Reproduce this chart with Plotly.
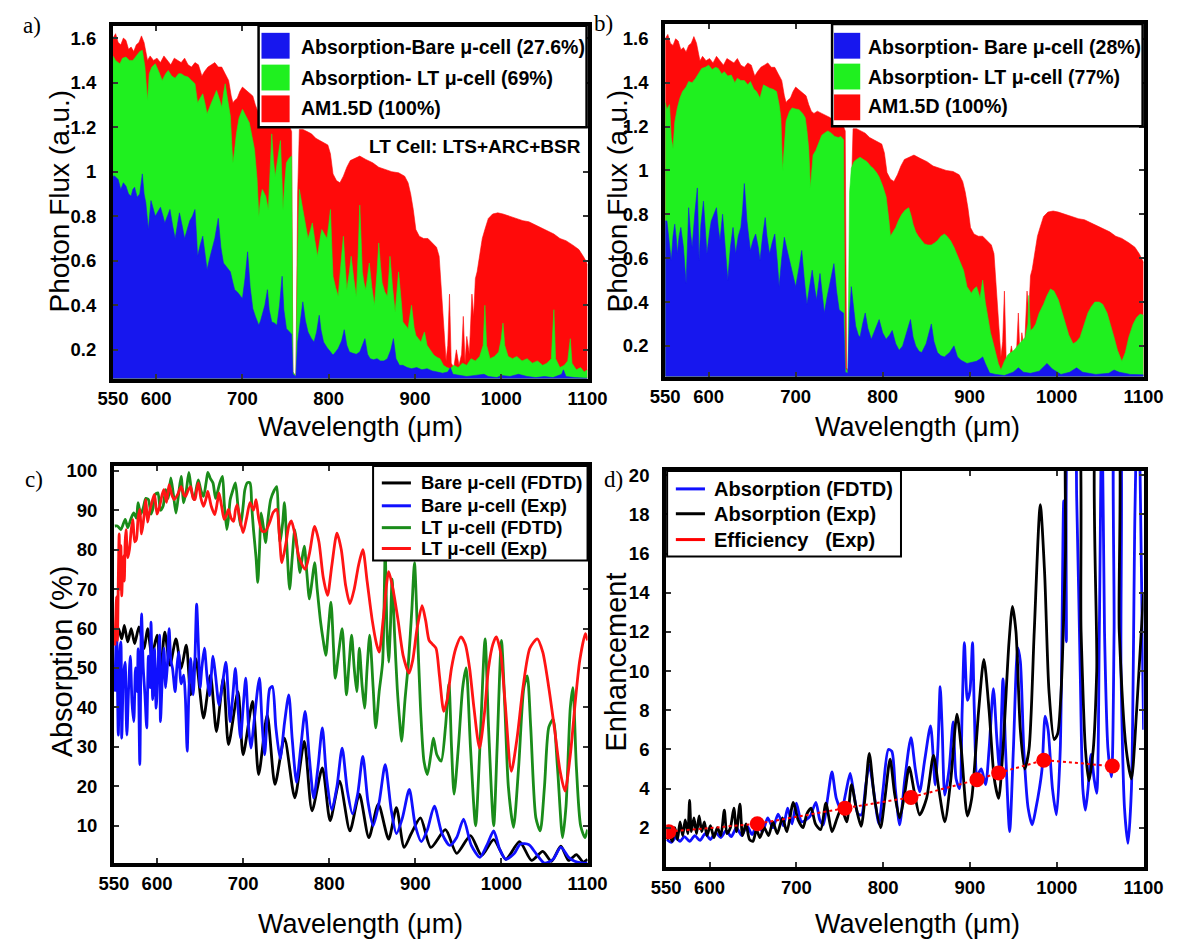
import plotly.graph_objects as go

# ---------------- DATA ----------------
# AM1.5D photon flux (same spectrum in panels a and b): (wavelength nm, flux a.u.)
AM15 = [(550,1.60),(553,1.62),(556,1.58),(559,1.57),(562,1.60),(565,1.59),(568,1.55),(571,1.56),(574,1.54),
        (577,1.57),(580,1.58),(583,1.61),(586,1.58),(588,1.54),(590,1.50),(593,1.52),(597,1.50),(601,1.51),
        (605,1.49),(609,1.52),(613,1.50),(617,1.48),(621,1.51),(625,1.50),(629,1.49),(633,1.51),(637,1.48),
        (641,1.47),(645,1.49),(649,1.48),(653,1.43),(656,1.45),(660,1.47),(664,1.48),(668,1.49),(672,1.47),
        (676,1.47),(680,1.44),(684,1.41),(687,1.34),(689,1.31),(691,1.32),(694,1.33),(697,1.36),(700,1.38),
        (703,1.37),(706,1.36),(709,1.35),(712,1.34),(715,1.30),(718,1.27),(721,1.26),(725,1.27),(730,1.26),
        (735,1.25),(740,1.24),(745,1.22),(750,1.21),(755,1.20),(757,1.18),(758.5,0.10),(762,0.08),(764,0.90),
        (766,1.19),(770,1.19),(775,1.18),(780,1.17),(785,1.15),(790,1.14),(795,1.13),(799,1.12),(802,1.08),
        (805,0.99),(809,0.96),(813,0.95),(817,0.98),(821,1.02),(825,1.05),(830,1.06),(836,1.07),(843,1.055),
        (851,1.04),(858,1.02),(866,1.01),(873,1.00),(881,0.995),(888,0.98),(892,0.95),(895,0.90),(898,0.83),
        (901,0.74),(905,0.71),(910,0.70),(915,0.70),(920,0.68),(925,0.66),(928,0.62),(930,0.50),(932,0.38),
        (934,0.22),(936,0.15),(938,0.22),(940,0.45),(942,0.14),(945,0.12),(948,0.20),(951,0.13),(954,0.18),
        (956,0.35),(958,0.14),(960,0.26),(963,0.18),(966,0.45),(968,0.35),(970,0.52),(972,0.55),(975,0.62),
        (978,0.70),(981,0.74),(985,0.79),(990,0.81),(996,0.815),(1002,0.81),(1010,0.80),(1018,0.79),
        (1025,0.78),(1032,0.775),(1040,0.76),(1048,0.745),(1055,0.73),(1061,0.72),(1068,0.70),(1075,0.69),
        (1083,0.67),(1090,0.65),(1095,0.62),(1098,0.60),(1100,0.58)]

# Panel a: absorbed photon flux, LT micro-cell (69 %)
A_LT = [(550,1.52),(553,1.50),(556,1.49),(558,1.485),(561,1.51),(565,1.515),(569,1.50),(573,1.50),(577,1.52),
        (581,1.54),(584,1.545),(587,1.47),(590,1.32),(592,1.44),(595,1.47),(599,1.485),(603,1.45),(607,1.41),
        (611,1.44),(614,1.455),(618,1.43),(622,1.42),(626,1.44),(629,1.44),(633,1.43),(637,1.425),(641,1.41),
        (645,1.395),(648,1.31),(651,1.33),(654,1.35),(657,1.30),(659,1.26),(662,1.29),(665,1.32),(668,1.35),
        (670,1.365),(673,1.33),(676,1.29),(678,1.35),(680,1.395),(683,1.32),(686,1.25),(688,1.10),(689,1.04),
        (691,1.10),(693,1.17),(696,1.24),(700,1.28),(704,1.25),(708,1.22),(711,1.16),(714,1.10),(717,0.965),
        (719,0.80),(721,0.88),(723,0.92),(727,0.89),(730,0.83),(732,1.00),(734,1.17),(736,1.05),(738,0.98),
        (741,1.06),(744,1.14),(746,0.95),(747,0.83),(749,0.95),(751,1.04),(754,1.06),(757,1.07),(758.5,0.10),
        (762,0.08),(764,0.62),(766,0.92),(770,0.83),(773,0.76),(776,0.70),(779,0.74),(781,0.77),(784,0.69),
        (787,0.62),(790,0.70),(792,0.74),(795,0.72),(798,0.70),(800,0.76),(802,0.83),(804,0.62),(805,0.53),
        (808,0.48),(811,0.44),(814,0.58),(817,0.71),(819,0.58),(821,0.47),(824,0.55),(826,0.62),(829,0.52),
        (832,0.44),(834,0.62),(836,0.85),(838,0.65),(839,0.55),(841,0.50),(843,0.47),(845,0.53),(847,0.59),
        (850,0.48),(853,0.40),(856,0.55),(858,0.68),(860,0.58),(862,0.50),(865,0.46),(868,0.44),(870,0.55),
        (871,0.62),(874,0.48),(877,0.37),(879,0.46),(881,0.55),(884,0.42),(886,0.325),(889,0.31),(892,0.295),
        (894,0.35),(896,0.40),(899,0.30),(901,0.265),(904,0.25),(907,0.235),(909,0.26),(911,0.28),(914,0.22),
        (918,0.20),(922,0.175),(926,0.165),(929,0.16),(933,0.13),(937,0.12),(941,0.115),(945,0.13),(950,0.12),
        (955,0.14),(960,0.13),(965,0.16),(970,0.15),(975,0.17),(979,0.22),(981,0.40),(983,0.22),(987,0.16),
        (992,0.17),(997,0.19),(1000,0.25),(1002,0.32),(1004,0.22),(1008,0.17),(1013,0.16),(1018,0.17),
        (1024,0.15),(1030,0.16),(1036,0.14),(1042,0.15),(1048,0.13),(1053,0.14),(1058,0.16),(1061,0.38),
        (1063,0.16),(1068,0.12),(1073,0.13),(1077,0.15),(1080,0.25),(1082,0.14),(1087,0.11),(1092,0.12),
        (1096,0.10),(1100,0.11)]

# Panel a: absorbed photon flux, bare micro-cell (27.6 %)
A_BARE = [(550,0.98),(552,0.98),(556,0.965),(559,0.92),(562,0.95),(565,0.935),(568,0.90),(571,0.89),(573,0.92),
          (575,0.93),(578,0.885),(581,0.90),(584,0.99),(586,0.90),(588,0.86),(591,0.74),(594,0.87),(597,0.83),
          (599,0.80),(602,0.82),(605,0.84),(608,0.80),(610,0.77),(613,0.80),(616,0.83),(619,0.76),(622,0.70),
          (625,0.77),(627,0.815),(630,0.76),(633,0.70),(636,0.74),(639,0.78),(642,0.80),(645,0.83),(647,0.70),
          (648,0.62),(651,0.67),(654,0.71),(657,0.62),(659,0.56),(662,0.61),(665,0.65),(668,0.70),(672,0.79),
          (675,0.66),(678,0.59),(682,0.57),(686,0.55),(689,0.50),(691,0.47),(694,0.46),(697,0.445),(700,0.43),
          (703,0.52),(706,0.64),(709,0.48),(712,0.385),(715,0.35),(719,0.31),(721,0.33),(723,0.355),(726,0.40),
          (729,0.47),(731,0.38),(734,0.325),(737,0.32),(740,0.31),(743,0.40),(746,0.53),(748,0.38),(751,0.295),
          (754,0.28),(757,0.27),(758.5,0.09),(762,0.08),(764,0.235),(767,0.32),(770,0.415),(773,0.33),(776,0.28),
          (780,0.25),(783,0.235),(786,0.28),(789,0.355),(791,0.29),(794,0.235),(798,0.21),(802,0.19),(805,0.176),
          (808,0.19),(811,0.206),(815,0.24),(818,0.29),(821,0.22),(824,0.19),(828,0.184),(832,0.18),(836,0.19),
          (839,0.22),(842,0.25),(845,0.18),(848,0.16),(852,0.155),(856,0.16),(860,0.15),(864,0.15),(868,0.16),
          (872,0.20),(875,0.25),(878,0.16),(882,0.13),(886,0.13),(891,0.12),(896,0.115),(902,0.12),(908,0.11),
          (914,0.115),(920,0.105),(926,0.10),(932,0.095),(938,0.10),(941,0.12),(944,0.09),(950,0.085),(960,0.08),
          (970,0.085),(980,0.09),(985,0.08),(995,0.075),(1000,0.085),(1010,0.08),(1020,0.09),(1030,0.08),
          (1040,0.075),(1050,0.08),(1060,0.075),(1070,0.09),(1072,0.11),(1075,0.08),(1085,0.075),(1100,0.072)]

# Panel b: absorbed photon flux, LT micro-cell (77 %)
B_LT = [(550,1.31),(552,1.28),(555,1.30),(557,1.15),(559,1.10),(561,1.22),(564,1.285),(567,1.33),(570,1.36),
        (574,1.38),(577,1.405),(581,1.40),(585,1.42),(588,1.44),(592,1.465),(596,1.47),(600,1.48),(604,1.46),
        (608,1.47),(611,1.465),(615,1.44),(618,1.45),(622,1.43),(626,1.435),(630,1.40),(633,1.42),(637,1.41),
        (641,1.41),(645,1.39),(648,1.405),(652,1.37),(655,1.36),(659,1.33),(663,1.39),(667,1.38),(670,1.375),
        (674,1.37),(678,1.36),(681,1.30),(683,1.24),(685,1.00),(687,1.10),(689,1.225),(693,1.27),(696,1.285),
        (700,1.28),(704,1.277),(708,1.26),(711,1.24),(713,1.18),(715,1.10),(717,0.92),(719,1.00),(720,1.07),
        (723,1.09),(726,1.12),(730,1.16),(733,1.17),(737,1.18),(741,1.17),(745,1.155),(749,1.15),(752,1.155),
        (755,1.14),(757,0.10),(760,0.08),(762,0.90),(764,1.01),(767,1.04),(770,1.05),(774,1.06),(778,1.05),
        (782,1.04),(786,1.02),(789,1.01),(793,0.99),(796,0.97),(800,0.93),(804,0.88),(807,0.78),(809,0.70),
        (812,0.72),(815,0.74),(818,0.77),(822,0.80),(826,0.82),(830,0.83),(833,0.79),(835,0.755),(838,0.72),
        (841,0.70),(845,0.68),(848,0.665),(852,0.66),(856,0.66),(860,0.67),(863,0.68),(867,0.70),(871,0.71),
        (874,0.70),(878,0.68),(882,0.65),(885,0.62),(889,0.58),(893,0.545),(897,0.47),(900,0.45),(902,0.44),
        (905,0.46),(908,0.47),(912,0.42),(915,0.50),(918,0.40),(921,0.32),(924,0.26),(926,0.23),(930,0.165),
        (933,0.12),(936,0.09),(940,0.13),(944,0.16),(948,0.17),(951,0.18),(955,0.20),(960,0.22),(964,0.24),
        (967,0.30),(968,0.43),(970,0.27),(973,0.28),(976,0.30),(980,0.35),(985,0.39),(989,0.43),(993,0.46),
        (997,0.45),(1002,0.41),(1006,0.36),(1010,0.30),(1014,0.25),(1019,0.21),(1023,0.22),(1027,0.24),
        (1031,0.29),(1036,0.35),(1040,0.38),(1044,0.40),(1049,0.40),(1053,0.39),(1058,0.35),(1062,0.30),
        (1066,0.24),(1070,0.18),(1075,0.13),(1079,0.17),(1083,0.24),(1088,0.30),(1092,0.33),(1096,0.345),
        (1100,0.34)]

# Panel b: absorbed photon flux, bare micro-cell (28 %)
B_BARE = [(550,0.77),(552,0.77),(555,0.66),(557,0.59),(559,0.70),(561,0.755),(563,0.68),(564,0.62),(566,0.70),
          (568,0.74),(571,0.65),(574,0.485),(576,0.70),(577,0.83),(579,0.72),(581,0.65),(584,0.80),(587,0.92),
          (589,0.59),(591,0.75),(594,0.86),(596,0.75),(598,0.62),(601,0.72),(603,0.77),(606,0.80),(609,0.83),
          (611,0.74),(613,0.68),(616,0.80),(619,0.64),(622,0.50),(625,0.65),(628,0.74),(631,0.62),(634,0.70),
          (637,0.74),(639,0.82),(641,0.94),(643,0.80),(644,0.77),(646,0.70),(648,0.635),(651,0.68),(654,0.71),
          (657,0.65),(659,0.59),(662,0.70),(665,0.785),(667,0.70),(670,0.62),(673,0.67),(676,0.71),(679,0.58),
          (681,0.47),(684,0.60),(687,0.695),(690,0.64),(693,0.59),(697,0.52),(700,0.47),(704,0.56),(707,0.635),
          (710,0.50),(713,0.39),(716,0.47),(719,0.545),(722,0.46),(724,0.41),(726,0.47),(728,0.53),(731,0.42),
          (733,0.35),(736,0.42),(739,0.485),(742,0.54),(744,0.575),(747,0.45),(750,0.365),(753,0.355),(755,0.35),
          (757,0.08),(760,0.075),(762,0.35),(764,0.47),(767,0.36),(769,0.29),(772,0.25),(774,0.24),(777,0.30),
          (780,0.35),(783,0.28),(787,0.23),(791,0.27),(796,0.32),(800,0.26),(804,0.23),(808,0.25),(811,0.27),
          (815,0.21),(819,0.18),(823,0.20),(828,0.27),(832,0.32),(835,0.24),(838,0.20),(842,0.175),(845,0.17),
          (850,0.21),(856,0.30),(859,0.22),(863,0.17),(867,0.155),(871,0.15),(877,0.17),(882,0.20),(886,0.15),
          (890,0.135),(897,0.12),(903,0.125),(908,0.13),(912,0.14),(915,0.15),(918,0.12),(923,0.076),(930,0.07),
          (940,0.065),(950,0.08),(956,0.10),(962,0.08),(970,0.075),(980,0.085),(989,0.12),(995,0.095),(1005,0.07),
          (1015,0.08),(1023,0.10),(1030,0.08),(1045,0.07),(1060,0.075),(1066,0.09),(1072,0.08),(1085,0.07),
          (1100,0.068)]

# Panel c: absorption (%)
C_BARE_FDTD = [(551,60),(555,60),(559,57.4),(562,60.8),(566,56.6),(570,60),(574,56.2),(579,60.4),(585,54.9),
               (589,60),(594,53.2),(600,58.3),(604,49),(609,59.1),(615,50.7),(622,57.4),(628,49.9),(634,55.8),
               (639,43.2),(645,52.4),(654,37.3),(662,48.2),(669,33.9),(677,47.4),(683,30.6),(694,44),(700,28),
               (711,41.5),(718,23),(728,38.1),(737,20.5),(748,32.2),(760,17.1),(771,31.4),(780,13.8),(792,24.7),
               (801,11.3),(812,21.3),(824,8.7),(835,18),(846,7),(857,15.5),(869,6.6),(878,14.6),(887,4.5),
               (895,7.9),(906,12),(918,4.5),(935,9),(948,3),(964,7.5),(977,2.5),(991,6.5),(1005,1.5),(1021,6),
               (1035,1.2),(1048,3.5),(1058,1),(1069,4.8),(1078,1.2),(1087,2.7),(1095,0.8),(1100,1.5)]

C_BARE_EXP = [(551,44),(553,60),(555,33),(557,55),(558,56.6),(559,32.2),(561,48),(563,51.5),(564,40),(565,33),
              (567,45),(569,53),(571,41),(573,36.4),(575,50),(577,44),(578,54.9),(580,25.5),(582,63.7),(584,50),
              (586,43),(588,34.8),(590,53),(592,45),(593,61.6),(595,42),(597,54.9),(599,39.8),(601,50),(603,58.3),
              (604,36.4),(606,47),(608,55),(610,45),(612,50.7),(614,60),(616,52),(618,49.9),(621,44),(623,50),
              (625,54),(628,46),(631,48.2),(633,42),(635,28.9),(637,44),(639,52.4),(642,43.2),(644,52),(646,66.2),
              (648,56),(650,45),(652,49.9),(655,55),(658,48),(661,43),(665,53),(668,48),(672,40.6),(676,46),
              (680,51.5),(683,42),(685,36.4),(688,43),(691,49.9),(694,40),(697,32.2),(700,40),(703,47.4),(706,36),
              (709,29.7),(713,37),(717,45),(719,47.4),(722,36),(725,28),(728,38),(731,44.8),(734,45.3),(738,35),
              (743,27),(748,36),(753,43.2),(757,32),(762,21),(767,30),(772,39),(777,27),(782,17),(787,25),
              (792,34.8),(797,22),(803,14),(809,20),(815,29.7),(821,19),(827,13),(833,18),(839,27.6),(845,16),
              (851,10),(858,16),(865,25.5),(872,14),(878,8),(885,12),(893,19.2),(900,10),(907,6),(914,9),(922,15),
              (931,8),(940,5),(948,7),(956,11.7),(965,5),(975,2),(983,5),(991,8.7),(998,4),(1005,1.5),(1015,3),
              (1022,5.4),(1032,5.2),(1040,3),(1050,0.5),(1060,1.5),(1069,4.6),(1078,2),(1085,1),(1093,0.6),
              (1100,0.5)]

C_LT_FDTD = [(551,86),(554,86),(558,85.1),(563,87.7),(566,85.6),(570,88),(573,89.3),(576,88),(578,91.9),
             (581,89),(584,90.6),(587,93),(590,92.7),(593,89),(595,90.2),(598,94),(601,94.4),(604,90),(607,91),
             (610,95.2),(613,93),(616,98.2),(619,94),(622,89.3),(625,94),(628,98.6),(631,91.9),(634,95),
             (637,99.6),(640,95),(643,92.7),(646,96),(648,97.7),(651,95),(654,93.5),(657,97),(659,99.6),(662,98),
             (665,96.9),(668,93),(670,94.4),(673,97),(676,98.6),(678,92),(681,85.1),(683,88),(685,92.7),(688,95),
             (691,96.9),(694,91),(697,86),(700,91),(702,95.2),(705,97),(708,96.9),(710,91),(712,85.1),(715,78),
             (717,71.7),(719,80),(721,89.3),(724,85),(726,81.8),(729,88),(732,92.7),(736,95),(739,96),(741,88),
             (743,81.8),(746,87),(748,91.9),(751,80),(754,70),(757,78),(760,85.1),(763,80),(766,74.2),(768,77),
             (771,80.9),(774,74),(777,67.5),(780,72),(783,76.7),(786,70),(790,61.6),(793,57),(796,53.2),(799,60),
             (802,66.7),(805,55),(807,47.4),(811,54),(815,60),(818,50),(820,43.2),(823,51),(826,58.3),(829,50),
             (832,44),(835,55),(838,46),(841,39.8),(844,50),(847,58.3),(851,45),(854,34.8),(858,44),(862,51.5),
             (865,79.3),(867,60),(869,51.5),(871,60),(873,72.5),(876,58),(879,44.8),(882,36),(884,31.4),(888,42),
             (892,51.5),(896,65),(899,76.7),(902,62),(906,40),(910,26.4),(914,23),(918,28),(921,32.2),(925,28),
             (930,26.4),(935,35),(939,46),(942,30),(945,18),(950,30),(955,45),(959,50),(964,30),(970,10),(975,30),
             (981,57.4),(985,35),(991,10),(995,30),(1000,57),(1004,40),(1008,20),(1014,9.6),(1020,25),(1026,45),
             (1030,48),(1034,35),(1040,12),(1045,8.7),(1050,20),(1055,35),(1060,37),(1065,25),(1071,7),(1075,15),
             (1080,40),(1083,45),(1087,25),(1092,10),(1097,7),(1100,9)]

C_LT_EXP = [(551,55.7),(552,62),(553,68),(554,57),(555,72),(556,84),(557,70),(558,81),(559,68.3),(560,75),
            (561,78.4),(562,72),(563,82),(564,85.1),(566,78),(568,80.1),(570,85),(572,87.7),(574,82),(576,82.6),
            (578,88),(580,90.2),(582,84),(584,86.8),(586,91),(587,92.7),(589,87),(591,89.3),(594,92),(597,94),
            (600,89),(603,91),(606,94),(608,95.2),(611,92),(614,96.5),(617,94),(620,92.7),(624,94),(628,96),
            (631,94),(633,93.5),(636,95),(639,96),(642,93),(644,92.7),(646,95),(648,96.9),(651,93),(654,91),
            (657,93),(659,94.8),(663,91),(667,88.9),(670,92),(672,94.4),(675,91),(678,87.7),(681,89),(683,90.2),
            (686,88),(689,87.2),(691,90),(693,91.4),(697,87),(700,84.3),(704,88),(708,91.9),(712,90),(715,92.7),
            (718,88),(722,84.7),(726,84.7),(731,87),(735,89.5),(739,90.2),(742,84),(745,76.7),(750,82),(753,86),
            (756,87.3),(760,84),(765,78),(772,75),(777,79),(783,85.9),(788,82),(793,73),(798,68.4),(803,76),
            (809,84.2),(814,80),(819,71),(824,66.3),(829,70),(834,76),(839,80),(844,72),(850,62),(855,56),(858,54),
            (863,63),(869,74.4),(874,70),(880,62),(886,53),(892.7,48.7),(897,52),(902,60),(907.8,65.8),(912,62),
            (916,57),(920,56),(924,55),(928,48),(933,39),(937,42),(942,50),(947,55),(953,57.9),(958,56),(963,50),
            (968,40),(974.5,29.7),(980,38),(985,50),(990,56),(994,57.9),(999,54),(1004,42),(1011.5,23.8),(1018,32),
            (1025,45),(1033,55),(1041.6,57.4),(1048,54),(1055,45),(1062,34),(1068,24),(1073.8,18.8),(1080,28),
            (1086,42),(1091,52),(1097.5,58.7),(1100,57)]

# Panel d: enhancement (values above 20 run off the top of the axis)
D_ABS_FDTD = [(551,1.4),(556,1.25),(561,1.5),(566,1.3),(571,1.55),(577,1.3),(583,1.6),(589,1.35),(595,1.7),
              (601,1.4),(607,1.75),(613,1.5),(619,1.85),(625,1.55),(631,2.0),(637,1.6),(643,2.1),(649,1.65),
              (655,2.2),(661,1.8),(667,2.5),(673,2.0),(679,2.7),(685,2.1),(690,3.0),(695,2.2),(700,3.25),(706,2.3),
              (711,2.4),(716,2.6),(722.5,3.3),(727,2.4),(731,2.15),(736,3.5),(741,4.85),(746,3.5),(752,2.9),
              (757,3.8),(762,4.77),(767,3.5),(771,2.7),(775,2.66),(780,4.2),(784,5.2),(789,3.9),(795,2.2),(800,4.0),
              (806,6.0),(810,5.9),(814,4.0),(819,2.15),(825,4.5),(832,6.6),(837,5.0),(842,3.84),(848,5.5),
              (854.6,7.2),(860,4.18),(863,6.0),(865.7,9.2),(868,7.0),(871,3.67),(876,5.0),(880.6,7.4),(884,4.5),
              (888,4.0),(891,8.0),(893.6,11.45),(897,8.5),(900,9.0),(902.9,11.45),(905,8.0),(908.5,4.7),(913,5.0),
              (918,4.2),(922,6.0),(927,9.1),(931,6.5),(934,5.0),(938,9.6),(941,6.0),(945.7,1.8),(950,6.0),
              (955,11.2),(958,10.5),(962,6.0),(967,3.0),(971.7,2.15),(976,3.0),(980,4.0),(983,5.0),(986.6,7.7),
              (990,7.0),(995,4.0),(999.6,2.66),(1004,6.0),(1008,18.7),(1011,11.5),(1015,24),(1019,24),(1023,18.7),
              (1027,10),(1030,4),(1033,2.9),(1036,4),(1039.5,5.75),(1043,4.5),(1046,3.75),(1049,12),(1052,24),
              (1055,12),(1059,6),(1063,4.6),(1066,12),(1068,24),(1071,24),(1074,10),(1078,3),(1082,1.2),(1086,4),
              (1090,18),(1093,24),(1096,20),(1100,7)]

D_ABS_EXP = [(551,1.4),(554,1.6),(557,1.3),(560,2.0),(563,1.4),(566,2.3),(569,1.6),(572,2.4),(575,1.7),(577,3.4),
             (579,1.8),(582,2.5),(585,1.7),(588,2.6),(591,1.8),(594,2.3),(597,1.6),(601,2.1),(605,1.5),(609,2.0),
             (613,1.6),(617,2.9),(620,1.7),(624,2.0),(628,3.0),(631,1.8),(635,3.2),(638,1.6),(642,2.2),(646,1.4),
             (650,1.3),(654,1.9),(658,1.5),(663,2.0),(668,1.6),(673,2.3),(678,1.7),(684,2.5),(689,1.8),(696.5,3.3),
             (702,2.4),(707.7,2.0),(712,2.7),(717,3.0),(722,2.2),(728,1.9),(734,3.25),(741,1.8),(747,2.5),(752,3.0),
             (758,2.3),(763.5,4.2),(769,3.0),(774.6,2.07),(779,3.5),(784,5.8),(790,3.5),(797,2.0),(802,3.5),
             (808,5.5),(813,3.8),(819,2.5),(825,3.8),(830,5.1),(836,3.8),(842,2.66),(850,3.5),(858,5.7),(864,4.0),
             (871,2.3),(878,4.5),(885,7.8),(890,6.0),(897,2.6),(902,3.5),(910,8.0),(916,10.6),(922,8.0),(928,4.5),
             (933,3.5),(938,6.0),(945,11.5),(949,13.3),(953,12.0),(958,7.0),(963,5.0),(968,6.0),(974,12.0),
             (981,18.5),(986,15.0),(991,9.0),(997,6.5),(1001,6.8),(1005,9),(1010,16),(1014,24),(1022,24),
             (1028,12),(1033,6),(1037,4.4),(1042,6),(1046,10),(1050,24),(1066,24),(1072,12),(1080,6),(1086,4.5),
             (1092,8),(1100,14)]

D_EFF_X = [553, 655, 756, 832, 908, 933, 985, 1064]
D_EFF_Y = [1.8, 2.2, 3.0, 3.55, 4.45, 4.8, 5.45, 5.15]

X_TICKS = [550, 600, 700, 800, 900, 1000, 1100]
AB_TICKS = [0.2, 0.4, 0.6, 0.8, 1.0, 1.2, 1.4, 1.6]
AB_TICKTEXT = ["0.2", "0.4", "0.6", "0.8", "1", "1.2", "1.4", "1.6"]
C_TICKS = [10, 20, 30, 40, 50, 60, 70, 80, 90, 100]
D_TICKS = [2, 4, 6, 8, 10, 12, 14, 16, 18, 20]

LEG_A = ["Absorption-Bare μ-cell (27.6%)", "Absorption- LT μ-cell (69%)", "AM1.5D (100%)"]
LEG_B = ["Absorption- Bare μ-cell (28%)", "Absorption- LT μ-cell (77%)", "AM1.5D (100%)"]
LEG_C = ["Bare μ-cell (FDTD)", "Bare μ-cell (Exp)", "LT μ-cell (FDTD)", "LT μ-cell (Exp)"]
LEG_D = ["Absorption (FDTD)", "Absorption (Exp)", "Efficiency   (Exp)"]

# ---------------- STYLE ----------------
W, H = 1183, 941
BLUE_F, GREEN_F, RED_F = "#1717ee", "#1ff01f", "#ff0a0a"
C_COLS = ["#000000", "#1010ff", "#1a8c1a", "#ff1414"]
D_COLS = ["#1010ff", "#000000", "#ff0000"]
TICKF = dict(family="Liberation Sans", size=18.5, color="black")


def X(px):
    return px / W


def Y(py):
    return 1 - py / H


def xy(pairs):
    return [p[0] for p in pairs], [p[1] for p in pairs]


fig = go.Figure()


def add_fill(pairs, color, ax):
    x, y = xy(pairs)
    fig.add_trace(go.Scatter(x=x, y=y, mode="lines", fill="tozeroy", fillcolor=color,
                             line=dict(color=color, width=0.6), xaxis="x" + ax, yaxis="y" + ax,
                             showlegend=False, hoverinfo="skip"))


def add_line(pairs, color, ax, width=2.8):
    x, y = xy(pairs)
    fig.add_trace(go.Scatter(x=x, y=y, mode="lines",
                             line=dict(color=color, width=width, shape="spline", smoothing=0.7),
                             xaxis="x" + ax, yaxis="y" + ax, showlegend=False))


# panel a (axes 1), panel b (axes 2), panel c (axes 3), panel d (axes 4)
add_fill(AM15, RED_F, "")
add_fill(A_LT, GREEN_F, "")
add_fill(A_BARE, BLUE_F, "")
add_fill(AM15, RED_F, "2")
add_fill(B_LT, GREEN_F, "2")
add_fill(B_BARE, BLUE_F, "2")
for s, c in zip([C_BARE_FDTD, C_BARE_EXP, C_LT_FDTD, C_LT_EXP], C_COLS):
    add_line(s, c, "3")
add_line(D_ABS_FDTD, D_COLS[0], "4")
add_line(D_ABS_EXP, D_COLS[1], "4")
fig.add_trace(go.Scatter(x=D_EFF_X, y=D_EFF_Y, mode="lines+markers",
                         line=dict(color="#ff0000", width=2, dash="dot"),
                         marker=dict(color="#ff0000", size=15),
                         xaxis="x4", yaxis="y4", showlegend=False))

# ---------------- AXES ----------------
panels = {
    "": dict(xd=(101, 590), yd=(20, 375), yr=(0.0705, 1.655), tv=AB_TICKS, tt=AB_TICKTEXT),
    "2": dict(xd=(670, 1163), yd=(18, 373), yr=(0.06, 1.668), tv=AB_TICKS, tt=AB_TICKTEXT),
    "3": dict(xd=(102, 590), yd=(463, 863), yr=(0.43, 101.2), tv=C_TICKS, tt=[str(v) for v in C_TICKS]),
    "4": dict(xd=(671, 1163), yd=(468, 867), yr=(-0.03, 20.22), tv=D_TICKS, tt=[str(v) for v in D_TICKS]),
}
axcommon = dict(showline=True, linecolor="black", linewidth=4, mirror="ticks", ticks="inside",
                ticklen=5, tickwidth=1.5, tickcolor="#333333", showgrid=False, zeroline=False,
                tickfont=TICKF, layer="above traces")
layout = {}
for key, p in panels.items():
    xa = "xaxis" + key
    ya = "yaxis" + key
    layout[xa] = dict(domain=[X(p["xd"][0]), X(p["xd"][1])], range=[550, 1100],
                      tickvals=X_TICKS, ticktext=["<b>%d</b>" % v for v in X_TICKS],
                      anchor="y" + key, ticklabelstandoff=0, **axcommon)
    layout[ya] = dict(domain=[Y(p["yd"][1]), Y(p["yd"][0])], range=list(p["yr"]),
                      tickvals=p["tv"], ticktext=["<b>%s</b>" % t for t in p["tt"]],
                      anchor="x" + key, ticklabelstandoff=9, **axcommon)
fig.update_layout(**layout)

# ---------------- TITLES & LABELS ----------------
ann = []


def text(px, py, s, size, xanchor="center", angle=0, family="Liberation Sans", yanchor="middle"):
    ann.append(dict(x=X(px), y=Y(py), xref="paper", yref="paper", text=s, showarrow=False,
                    xanchor=xanchor, yanchor=yanchor, textangle=angle,
                    font=dict(family=family, size=size, color="black")))


for cx, cy in [(356, 424), (930, 424), (356, 924), (930, 924)]:
    text(cx, cy, "Wavelength (μm)", 27)
text(46, 196, "Photon Flux (a.u.)", 28, angle=-90)
text(621, 196, "Photon Flux (a.u.)", 28, angle=-90)
text(48, 660, "Absorption (%)", 29, angle=-90)
text(619, 660, "Enhancement", 29, angle=-90)
for s, cx, cy in [("a)", 18, 20), ("b)", 606, 18), ("c)", 20, 477), ("d)", 617, 477)]:
    text(cx, cy, s, 23, family="Liberation Serif")

shapes = []


def rect(x0, y0, x1, y1, fill="white", lw=2.5, lc="black"):
    shapes.append(dict(type="rect", xref="paper", yref="paper", x0=X(x0), x1=X(x1), y0=Y(y1), y1=Y(y0),
                       fillcolor=fill, line=dict(color=lc, width=lw), layer="above"))


def hline(x0, x1, py, color, w=3):
    shapes.append(dict(type="line", xref="paper", yref="paper", x0=X(x0), x1=X(x1), y0=Y(py), y1=Y(py),
                       line=dict(color=color, width=w), layer="above"))


# legend a
rect(251, 20, 589, 122)
for (y0, y1), c, s, ty in zip([(27, 53), (59, 85), (90, 117)], [BLUE_F, GREEN_F, RED_F], LEG_A, [41, 72, 103]):
    rect(254, y0, 283, y1, fill=c, lw=0)
    text(293, ty, "<b>%s</b>" % s, 19.5, xanchor="left")
text(585, 141, "<b>LT Cell: LTS+ARC+BSR</b>", 19, xanchor="right")
# legend b
rect(842, 18, 1162, 121)
for (y0, y1), c, s, ty in zip([(27, 53), (58, 84), (89, 115)], [BLUE_F, GREEN_F, RED_F], LEG_B, [41, 71, 101]):
    rect(844, y0, 871, y1, fill=c, lw=0)
    text(877, ty, "<b>%s</b>" % s, 19.5, xanchor="left")
# legend c
rect(369, 463, 590, 558, lw=2)
for c, s, ty in zip(C_COLS, LEG_C, [480, 503, 525, 546]):
    hline(378, 408, ty, c)
    text(416, ty, "<b>%s</b>" % s, 18.5, xanchor="left")
# legend d
rect(672, 468, 913, 554, lw=2)
for c, s, ty in zip(D_COLS, LEG_D, [486, 511, 537]):
    hline(681, 711, ty, c)
    text(718, ty, "<b>%s</b>" % s, 20, xanchor="left")

fig.update_layout(width=W, height=H, margin=dict(l=0, r=0, t=0, b=0), paper_bgcolor="white",
                  plot_bgcolor="white", annotations=ann, shapes=shapes, showlegend=False)
fig.write_html("out.html")
